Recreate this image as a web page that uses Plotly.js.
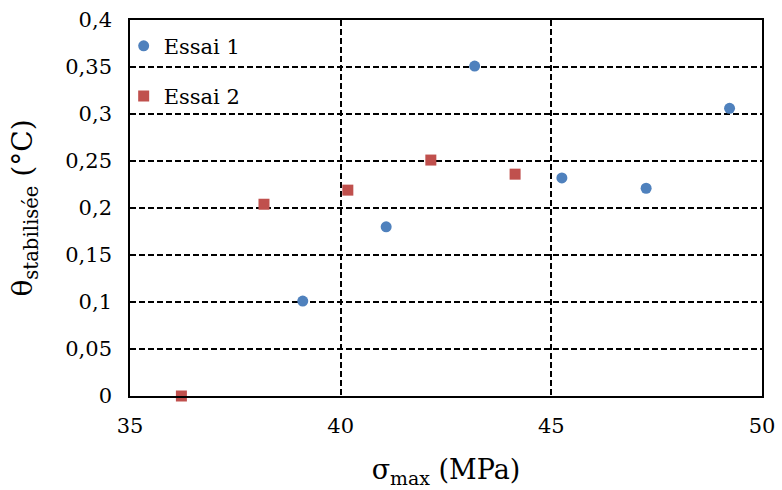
<!DOCTYPE html>
<html>
<head>
<meta charset="utf-8">
<script src="https://cdn.plot.ly/plotly-3.0.1.min.js"></script>
<style>html,body{margin:0;padding:0;background:#fff;}#chart{width:782px;height:490px;}</style>
</head>
<body>
<div id="chart"></div>
<script>
const essai1X = [39.1, 41.08, 43.18, 45.25, 47.25, 49.23];
const essai1Y = [0.101, 0.180, 0.351, 0.232, 0.221, 0.306];
const essai2X = [36.22, 38.18, 40.17, 42.14, 44.14];
const essai2Y = [0.0, 0.204, 0.219, 0.251, 0.236];
const names = ["Essai 1", "Essai 2"];
const yTicks = [0, 0.05, 0.1, 0.15, 0.2, 0.25, 0.3, 0.35, 0.4];
const yTickText = ["0", "0,05", "0,1", "0,15", "0,2", "0,25", "0,3", "0,35", "0,4"];
const xTicks = [35, 40, 45, 50];

const serif = "DejaVu Serif, Liberation Serif, serif";
const traces = [
  {x: essai1X, y: essai1Y, name: names[0], type: "scatter", mode: "markers", legendgroup: "a",
   marker: {symbol: "circle", size: 11, color: "#4F81BD"}, cliponaxis: false},
  {x: essai2X, y: essai2Y, name: names[1], type: "scatter", mode: "markers", legendgroup: "b",
   marker: {symbol: "square", size: 11, color: "#C0504D"}, cliponaxis: false}
];
const layout = {
  width: 782, height: 490,
  margin: {l: 130, r: 20, t: 20, b: 94},
  paper_bgcolor: "#fff", plot_bgcolor: "#fff",
  separators: ", ",
  font: {family: serif, color: "#000", size: 20},
  showlegend: true,
  legend: {x: -0.01, y: 0.985, xanchor: "left", yanchor: "top", bgcolor: "rgba(255,255,255,0)",
           font: {family: serif, size: 21, color: "#000"}, traceorder: "grouped", tracegroupgap: 20,
           itemwidth: 30},
  xaxis: {range: [35, 50], tickvals: xTicks, ticktext: xTicks.map(String), showgrid: true,
          gridcolor: "#000", griddash: "6px,3px", gridwidth: 2, zeroline: false,
          showline: true, linecolor: "#000", linewidth: 1.8, mirror: true, ticks: "",
          tickfont: {family: serif, size: 21}, ticklabelstandoff: 10,
          title: {text: "σ<sub>max</sub> (MPa)", font: {family: serif, size: 27}, standoff: 23}},
  yaxis: {range: [0, 0.4], tickvals: yTicks, ticktext: yTickText, showgrid: true,
          gridcolor: "#000", griddash: "6px,3px", gridwidth: 2, zeroline: false,
          showline: true, linecolor: "#000", linewidth: 1.8, mirror: true, ticks: "",
          tickfont: {family: serif, size: 21}, ticklabelstandoff: 12,
          title: {text: "θ<sub>stabilisée</sub> (°C)", font: {family: serif, size: 28}, standoff: 24}}
};
Plotly.newPlot("chart", traces, layout, {staticPlot: true, displayModeBar: false});
</script>
</body>
</html>
